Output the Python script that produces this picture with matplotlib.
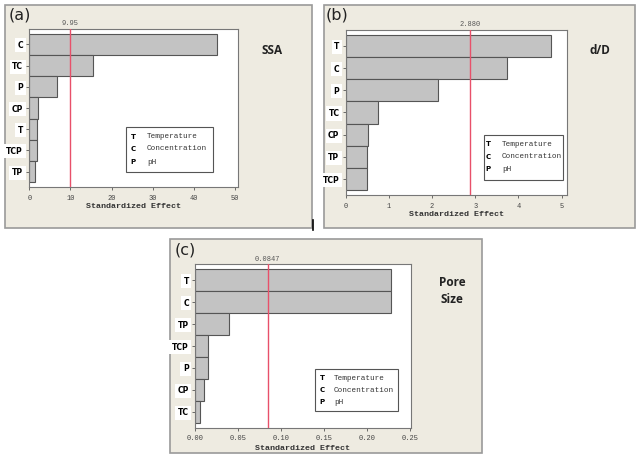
import numpy as np
import matplotlib
matplotlib.use('Agg')
import matplotlib.pyplot as plt
from matplotlib.patches import Rectangle
from matplotlib.lines import Line2D

# Data
a_terms = ['C', 'TC', 'P', 'CP', 'T', 'TCP', 'TP']
a_effects = [45.7, 15.6, 6.65, 2.2, 1.95, 1.8, 1.5]
a_ref = 9.95

b_terms = ['T', 'C', 'P', 'TC', 'CP', 'TP', 'TCP']
b_effects = [4.75, 3.74, 2.13, 0.74, 0.52, 0.50, 0.50]
b_ref = 2.880

c_terms = ['T', 'C', 'TP', 'TCP', 'P', 'CP', 'TC']
c_effects = [0.228, 0.228, 0.0395, 0.0155, 0.0155, 0.0101, 0.0058]
c_ref = 0.0847

legend_keys = ['T', 'C', 'P']
legend_names = ['Temperature', 'Concentration', 'pH']

W, H = 641, 467
fig = plt.figure(figsize=(W / 100, H / 100), dpi=100)
fig.patch.set_facecolor('white')

BEIGE = '#eeebe1'
BAR = '#c3c3c3'
RED = '#e8506a'
MONO = 'Liberation Mono'


def fx(x):
    return x / W


def fy(y):
    return 1 - y / H


def frame(x0, y0, x1, y1):
    fig.patches.append(Rectangle((fx(x0), fy(y1)), fx(x1 - x0), (y1 - y0) / H,
                                 transform=fig.transFigure, facecolor=BEIGE,
                                 edgecolor='#9a9a9a', lw=1.2, zorder=-1))


def panel(box, terms, effects, ref, ref_label, xmax, ticks, ticklabels,
          title, title_xy, name, name_xy, leg_box, leg_x, leg_rows, label_y):
    x0, y0, x1, y1 = box
    ax = fig.add_axes([fx(x0), fy(y1), fx(x1 - x0), (y1 - y0) / H])
    ax.set_zorder(2)
    ax.set_facecolor('white')
    pos = np.arange(len(terms))
    ax.barh(pos, effects, height=1.0, color=BAR, edgecolor='#555555', lw=0.8, zorder=2)
    ax.axvline(ref, color=RED, lw=1.0, zorder=3)
    ax.set_xlim(0, xmax)
    ax.set_ylim(len(terms) - 0.5 + 0.22, -0.5 - 0.22)
    ax.set_yticks(pos)
    ax.set_yticklabels(terms, fontsize=5.5, fontweight='bold', family='DejaVu Sans')
    for t in ax.get_yticklabels():
        t.set_bbox(dict(facecolor='white', edgecolor='none', pad=1.8))
    ax.set_xticks(ticks)
    ax.set_xticklabels(ticklabels, fontsize=5, family=MONO, color='#444444')
    ax.tick_params(axis='both', length=2.5, width=0.6, color='#555555', pad=3)
    ax.tick_params(axis='y', pad=2)
    for s in ax.spines.values():
        s.set_color('#777777')
        s.set_linewidth(0.8)
    ax.text(ref, 1.01, ref_label, transform=ax.get_xaxis_transform(), ha='center',
            va='bottom', fontsize=5, family=MONO, color='#555555')
    fig.text(fx(x0 + x1) / 2, fy(label_y), 'Standardized Effect', ha='center', va='center',
             fontsize=6, fontweight='bold', family=MONO, color='#333333')
    fig.text(fx(title_xy[0]), fy(title_xy[1]), title, ha='left', va='center',
             fontsize=11.5, family='DejaVu Sans', color='#222222')
    fig.text(fx(name_xy[0]), fy(name_xy[1]), name, ha='center', va='center',
             fontsize=8.5, fontweight='bold', family='Open Sans', color='#222222',
             linespacing=1.35)
    lx0, ly0, lx1, ly1 = leg_box
    fig.patches.append(Rectangle((fx(lx0), fy(ly1)), fx(lx1 - lx0), (ly1 - ly0) / H,
                                 transform=fig.transFigure, facecolor='white',
                                 edgecolor='#555555', lw=0.8, zorder=5))
    for k, (key, nm) in enumerate(zip(legend_keys, legend_names)):
        fig.text(fx(leg_x[0]), fy(leg_rows[k]), key, ha='center', va='center',
                 fontsize=5, fontweight='bold', family='DejaVu Sans', zorder=6)
        fig.text(fx(leg_x[1]), fy(leg_rows[k]), nm, ha='left', va='center',
                 fontsize=5.5, family=MONO, color='#333333', zorder=6)
    return ax


# Panel frames
frame(5, 5, 312, 228)
frame(324, 5, 635, 228)
frame(170, 239, 482, 453)

panel((29.3, 29, 238.3, 187), a_terms, a_effects, a_ref, '9.95', 50.8,
      [0, 10, 20, 30, 40, 50], ['0', '10', '20', '30', '40', '50'],
      '(a)', (9, 15), 'SSA', (272, 50),
      (126, 127, 213, 172), (133, 147), (137, 149, 162), 207)

panel((345.7, 30, 566.7, 195), b_terms, b_effects, b_ref, '2.880', 5.12,
      [0, 1, 2, 3, 4, 5], ['0', '1', '2', '3', '4', '5'],
      '(b)', (326, 15), 'd/D', (600, 50),
      (484, 135, 563, 180), (488, 502), (144, 157, 169), 215)

panel((195, 264.3, 410.7, 427.7), c_terms, c_effects, c_ref, '0.0847', 0.2512,
      [0, 0.05, 0.10, 0.15, 0.20, 0.25], ['0.00', '0.05', '0.10', '0.15', '0.20', '0.25'],
      '(c)', (175, 250), 'Pore\nSize', (452, 291),
      (315, 369, 398, 411), (322, 334), (378, 390, 402), 448)

# small dark mark at the lower right of panel (a)
fig.lines.append(Line2D([fx(312.5), fx(312.5)], [fy(220), fy(230)],
                        transform=fig.transFigure, color='black', lw=1.2))

fig.savefig('out.png', dpi=100)
